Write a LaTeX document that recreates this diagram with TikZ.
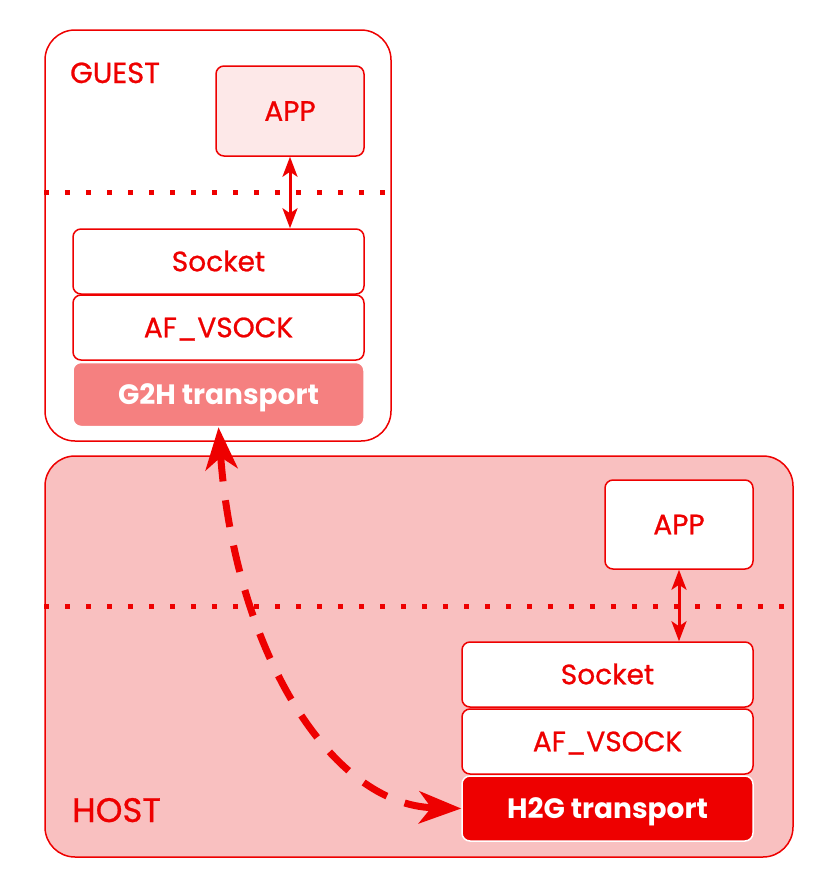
\documentclass[tikz,border=0pt]{standalone}
\usepackage{fontspec}
\setmainfont{Poppins}
\newfontfamily\medfont{Poppins}[FakeBold=0.8]
\usetikzlibrary{arrows.meta}
\definecolor{rhred}{HTML}{EE0000}
\definecolor{hostfill}{HTML}{F9C0C0}
\definecolor{g2hfill}{HTML}{F58080}
\definecolor{appfill}{HTML}{FDE8E8}
\tikzset{
  frame/.style={draw=rhred, line width=1.5pt, rounded corners=30pt, inner sep=0pt},
  layer/.style={draw=rhred, line width=1.5pt, rounded corners=8pt, inner sep=0pt, fill=white,
    text=rhred, font=\medfont\fontsize{28}{32}\selectfont, text height=19.5pt, text depth=0pt},
  transport/.style={draw=white, line width=1.5pt, rounded corners=8pt, inner sep=0pt,
    text=white, font=\fontsize{28}{32}\selectfont\bfseries, text height=19.5pt, text depth=0pt},
  dotline/.style={draw=rhred, line width=5pt, dash pattern=on 5pt off 16pt},
  duplex/.style={draw=rhred, line width=3pt, {Stealth[length=20pt,width=15pt,inset=5pt]}-{Stealth[length=20pt,width=15pt,inset=5pt]}},
  bigdash/.style={draw=rhred, line width=7pt, dash pattern=on 27pt off 19pt,
    {Stealth[length=42pt,width=32pt,inset=12pt]}-{Stealth[length=42pt,width=32pt,inset=12pt]}},
  title/.style={text=rhred, anchor=base west, inner sep=0pt}
}
\begin{document}
\begin{tikzpicture}[x=1pt,y=-1pt]
\useasboundingbox (0,0) rectangle (831,894);
% frames
\node[frame, fill=white, minimum width=346pt, minimum height=411pt] (guest) at (218,235.5) {};
\node[frame, fill=hostfill, minimum width=748pt, minimum height=401pt] (host) at (419,656.5) {};
% labels
\node[title, font=\medfont\fontsize{29}{32}\selectfont] (guestlbl) at (70,83) {GUEST};
\node[title, font=\medfont\fontsize{34}{38}\selectfont] (hostlbl) at (72,822) {HOST};
% dotted separators
\coordinate (gl) at (0,192);
\coordinate (hl) at (0,606);
\draw[dotline] (guest.west |- gl) -- (guest.east |- gl);
\draw[dotline] (host.west |- hl) -- (host.east |- hl);
% guest stack
\node[layer, fill=appfill, minimum width=148pt, minimum height=90pt] (gapp) at (290,111) {APP};
\node[layer, minimum width=291pt, minimum height=65pt] (gsock) at (218.5,261.5) {Socket};
\node[layer, minimum width=291pt, minimum height=65pt] (gaf) at (218.5,327.5) {AF\_VSOCK};
\node[transport, fill=g2hfill, minimum width=291pt, minimum height=64pt] (g2h) at (218.5,394.5) {G2H transport};
% host stack
\node[layer, minimum width=148pt, minimum height=89pt] (happ) at (679,524.5) {APP};
\node[layer, minimum width=291pt, minimum height=65pt] (hsock) at (607.5,674.5) {Socket};
\node[layer, minimum width=291pt, minimum height=65pt] (haf) at (607.5,741.5) {AF\_VSOCK};
\node[transport, fill=rhred, minimum width=291pt, minimum height=65pt] (h2g) at (607.5,808.5) {H2G transport};
% connectors
\draw[duplex] (gapp.south) -- (gapp.south |- gsock.north);
\draw[duplex] (happ.south) -- (happ.south |- hsock.north);
\draw[bigdash] (g2h.south) .. controls (235,650) and (330,805) .. (h2g.west);
\end{tikzpicture}
\end{document}
